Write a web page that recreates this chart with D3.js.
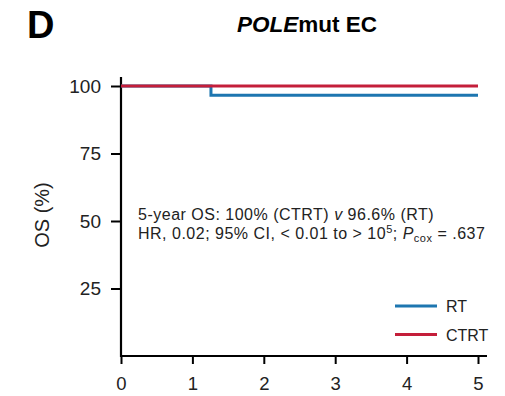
<!DOCTYPE html>
<html>
<head>
<meta charset="utf-8">
<script src="https://cdn.jsdelivr.net/npm/d3@7/dist/d3.min.js"></script>
<style>
  html, body { margin: 0; padding: 0; background: #fff; }
  svg { display: block; font-family: "Liberation Sans", Arial, Helvetica, sans-serif; }
</style>
</head>
<body>
<svg id="chart" width="505" height="396"></svg>
<script>
// Kaplan–Meier overall survival, POLE-mutated endometrial cancer
const years = [0, 1, 2, 3, 4, 5];
const yTicks = [25, 50, 75, 100];

// step curves: [time (years), OS (%)]
const rtCurve = [[0, 100], [1.26, 100], [1.26, 96.6], [5, 96.6]];
const ctrtCurve = [[0, 100], [5, 100]];

const seriesNames = ["RT", "CTRT"];
const seriesColors = ["#1d76b0", "#c41e3a"];

const svg = d3.select("#chart");

const x = d3.scaleLinear().domain([0, 5]).range([121, 478]);
const y = d3.scaleLinear().domain([0, 100]).range([356, 86]);

// panel letter and title
svg.append("text")
  .attr("x", 27).attr("y", 38)
  .attr("font-size", 38).attr("font-weight", "bold")
  .text("D");

const title = svg.append("text")
  .attr("x", 307).attr("y", 32)
  .attr("text-anchor", "middle")
  .attr("font-size", 22.5).attr("font-weight", "bold");
title.append("tspan").attr("font-style", "italic").text("POLE");
title.append("tspan").text("mut EC");

// x axis
const xAxis = svg.append("g")
  .attr("transform", `translate(0,${y(0)})`)
  .call(d3.axisBottom(x).tickValues(years).tickFormat(d3.format("d"))
    .tickSize(8).tickPadding(13).tickSizeOuter(0));
xAxis.select(".domain").remove();
xAxis.append("line")
  .attr("x1", x(0) - 1).attr("x2", x(5) + 9)
  .attr("stroke", "#000").attr("stroke-width", 2.2);
xAxis.selectAll(".tick line").attr("stroke-width", 2);
xAxis.selectAll(".tick text")
  .attr("font-size", 18.5).attr("fill", "#222")
  .attr("font-family", "Liberation Sans, Arial, sans-serif");

// y axis
const yAxis = svg.append("g")
  .attr("transform", `translate(${x(0)},0)`)
  .call(d3.axisLeft(y).tickValues(yTicks).tickFormat(d3.format("d"))
    .tickSize(10).tickPadding(10).tickSizeOuter(0));
yAxis.select(".domain").remove();
yAxis.append("line")
  .attr("y1", y(0) + 1).attr("y2", y(100) - 9)
  .attr("stroke", "#000").attr("stroke-width", 2.2);
yAxis.selectAll(".tick line").attr("stroke-width", 2);
yAxis.selectAll(".tick text")
  .attr("font-size", 19).attr("fill", "#222")
  .attr("font-family", "Liberation Sans, Arial, sans-serif");

svg.append("text")
  .attr("transform", `translate(49,${y(50) - 6}) rotate(-90)`)
  .attr("text-anchor", "middle")
  .attr("font-size", 20).attr("fill", "#222")
  .text("OS (%)");

// survival curves
const line = d3.line().x(d => x(d[0])).y(d => y(d[1]));
[rtCurve, ctrtCurve].forEach((curve, i) => {
  svg.append("path")
    .datum(curve)
    .attr("fill", "none")
    .attr("stroke", seriesColors[i])
    .attr("stroke-width", 3)
    .attr("d", line);
});

// statistics annotation
const note = svg.append("text")
  .attr("x", 138).attr("y", 220)
  .attr("font-size", 16).attr("letter-spacing", 0.5).attr("fill", "#222");
note.append("tspan").text("5-year OS: 100% (CTRT) ");
note.append("tspan").attr("font-style", "italic").text("v");
note.append("tspan").text(" 96.6% (RT)");

const note2 = svg.append("text")
  .attr("x", 138).attr("y", 238.5)
  .attr("font-size", 16).attr("letter-spacing", 0.5).attr("fill", "#222");
note2.append("tspan").text("HR, 0.02; 95% CI, < 0.01 to > 10");
note2.append("tspan").attr("font-size", 11).attr("dy", -6).text("5");
note2.append("tspan").attr("dy", 6).text("; ");
note2.append("tspan").attr("font-style", "italic").text("P");
note2.append("tspan").attr("font-size", 11).attr("dy", 3).text("cox");
note2.append("tspan").attr("dy", -3).text(" = .637");

// legend
const legend = svg.append("g");
seriesNames.forEach((name, i) => {
  const ly = 306 + i * 28.5;
  legend.append("line")
    .attr("x1", 395).attr("x2", 437)
    .attr("y1", ly).attr("y2", ly)
    .attr("stroke", seriesColors[i]).attr("stroke-width", 3);
  legend.append("text")
    .attr("x", 446).attr("y", ly + 6)
    .attr("font-size", 16).attr("fill", "#222")
    .text(name);
});
</script>
</body>
</html>
